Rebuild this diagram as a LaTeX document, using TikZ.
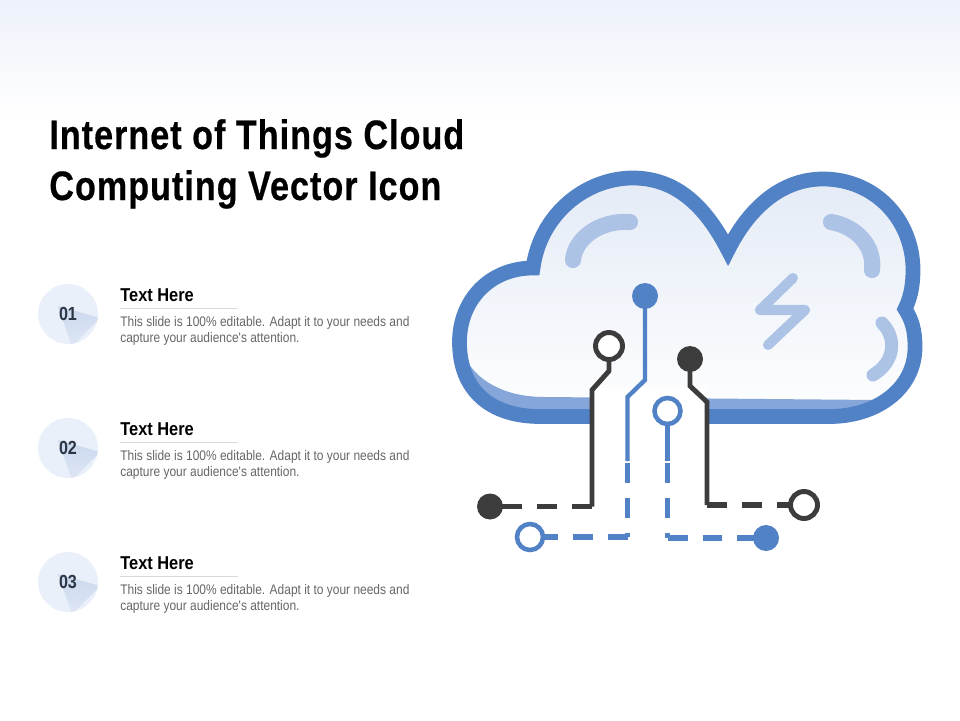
\documentclass[tikz,border=0pt]{standalone}
\usepackage{fontspec}
\usepackage{tikz}
\setmainfont{Liberation Sans}
\newfontfamily\titlefont[FakeStretch=0.83,LetterSpace=2.5,BoldFeatures={FakeBold=0.5}]{Liberation Sans}
\newfontfamily\headfont[FakeStretch=0.88]{Liberation Sans}
\newfontfamily\bodyfont[FakeStretch=0.862]{Liberation Sans}
\newfontfamily\numfont[FakeStretch=0.85]{Liberation Sans}
\definecolor{cloudblue}{HTML}{5282C6}
\definecolor{bandblue}{HTML}{86A6D9}
\definecolor{softblue}{HTML}{ADC3E6}
\definecolor{cloudtop}{HTML}{E4EBF6}
\definecolor{darkline}{HTML}{3C3C3C}
\definecolor{badge}{HTML}{EAF0F9}
\definecolor{wedge}{HTML}{CBD8EE}
\definecolor{numtext}{HTML}{2C3645}
\definecolor{skytop}{HTML}{EDF1FA}
\def\cloudpath{(728,250) .. controls (705,205) and (675,178) .. (633,178)
	.. controls (585,178) and (540,215) .. (533,268)
	.. controls (490,268) and (459.5,300) .. (459.5,342)
	.. controls (459.5,390) and (490,416.5) .. (540,416.5)
	-- (830,416.5) .. controls (875,416.5) and (915,390) .. (915,347)
	.. controls (915,330) and (912,320) .. (905,309)
	.. controls (912,295) and (913,280) .. (913,270)
	.. controls (913,220) and (875,179) .. (823,179)
	.. controls (780,179) and (748,210) .. (728,250) -- cycle}
\tikzset{
	darkwire/.style={line width=2.8pt,darkline},
	bluewire/.style={line width=2.5pt,cloudblue},
	darkdash/.style={line width=3.3pt,darkline,dash pattern=on 0.4cm off 0.3cm},
	bluedash/.style={line width=3.3pt,cloudblue,dash pattern=on 0.4cm off 0.3cm},
	softmark/.style={line width=#1,softblue,line cap=round,line join=round},
	pad/.style={circle,inner sep=0pt,minimum size=0.52cm,outer sep=-1pt},
	darkfull/.style={pad,fill=darkline},
	bluefull/.style={pad,fill=cloudblue},
	darkring/.style={pad,minimum size=0.54cm,draw=darkline,fill=white,line width=2.8pt},
	bluering/.style={pad,draw=cloudblue,fill=white,line width=2.6pt},
	titleline/.style={anchor=base west,inner sep=0pt,font=\titlefont\bfseries\fontsize{23.4}{30}\selectfont},
	head/.style={anchor=base west,inner sep=0pt,font=\headfont\bfseries\fontsize{10.6}{12}\selectfont},
	body/.style={anchor=north west,inner sep=0pt,align=left,text=black!60,font=\bodyfont\fontsize{7.9}{9.1}\selectfont},
	num/.style={inner sep=0pt,text=numtext,font=\numfont\bfseries\fontsize{10.8}{12}\selectfont}
}
\begin{document}
\begin{tikzpicture}[x=0.02cm,y=-0.02cm]
	\useasboundingbox (0,0) rectangle (960,720);
	\shade[top color=skytop,bottom color=white] (0,0) rectangle (960,118);
	% title
	\node[titleline] (title1) at (49,149) {Internet of Things Cloud};
	\node[titleline] (title2) at (49,200) {Computing Vector Icon};
	% list
	\foreach \n/\y in {01/0,02/134,03/268} {
		\begin{scope}
			\clip (68,314+\y) circle (30);
			\fill[badge] (38,284+\y) rectangle (98,344+\y);
			\shade[top color=wedge,bottom color=wedge!40!badge] (58,306+\y) -- (100,318+\y) -- (72,346+\y) -- cycle;
		\end{scope}
		\node[num] (num\n) at (68,314+\y) {\n};
		\node[head] (head\n) at (120,301+\y) {Text Here};
		\draw[black!15,line width=0.4pt] (120,308+\y) -- (238,308+\y);
		\node[body] (body\n) at (120,316+\y) {This slide is 100\% editable. Adapt it to your needs and\\capture your audience's attention.};
	}
	% cloud
	\shade[top color=cloudtop,bottom color=white!96!cloudtop] \cloudpath;
	\begin{scope}
		\clip \cloudpath;
		\fill[bandblue] (450,350) -- (465,358) .. controls (480,385) and (510,397) .. (545,397) -- (877,400) -- (870,430) -- (450,430) -- cycle;
		\fill[cloudblue] (830,412) .. controls (850,410) and (865,406) .. (877,400) -- (888,396) -- (905,430) -- (830,430) -- cycle;
	\end{scope}
	\draw[cloudblue,line width=8.4pt,line join=miter] \cloudpath;
	\fill[white] (593,388) rectangle (706,432);
	\draw[softmark=9.2pt] (573,260) .. controls (575,238) and (600,220) .. (630,222);
	\draw[softmark=9.2pt] (831,222) .. controls (855,226) and (875,245) .. (872,270);
	\draw[softmark=7.4pt] (882,323) .. controls (897,338) and (895,362) .. (873,375);
	\draw[softmark=5.7pt] (793,278) -- (760,310) -- (805,310) -- (768,345);
	% pads
	\node[darkring] (ringA) at (609,346) {};
	\node[darkfull] (dotA) at (490,506.5) {};
	\node[bluefull] (dotB) at (645,296) {};
	\node[bluering] (ringB) at (530,537) {};
	\node[bluering] (ringC) at (667.5,411) {};
	\node[bluefull] (dotC) at (766,538) {};
	\node[darkfull] (dotD) at (690,359) {};
	\node[darkring] (ringD) at (804,505) {};
	% wires
	\coordinate (a1) at (592,506.5);
	\coordinate (b1) at (627.5,461);
	\coordinate (b2) at (627.5,537);
	\coordinate (c1) at (667.5,461);
	\coordinate (c2) at (667.5,538);
	\coordinate (d1) at (707,505);
	\draw[darkwire] (ringA) -- (609,371) -- (592,390) -- (a1);
	\draw[darkdash] (a1) -- (dotA);
	\draw[bluewire] (dotB) -- (645,380) -- (627.5,397) -- (b1);
	\draw[bluedash,shorten <=0.04cm] (b1) -- (b2);
	\draw[bluedash] (b2) -- (ringB);
	\draw[bluewire] (ringC) -- (c1);
	\draw[bluedash,shorten <=0.04cm] (c1) -- (c2);
	\draw[bluedash] (c2) -- (dotC);
	\draw[darkwire] (dotD) -- (690,386) -- (707,402) -- (d1);
	\draw[darkdash] (d1) -- (ringD);
\end{tikzpicture}
\end{document}
